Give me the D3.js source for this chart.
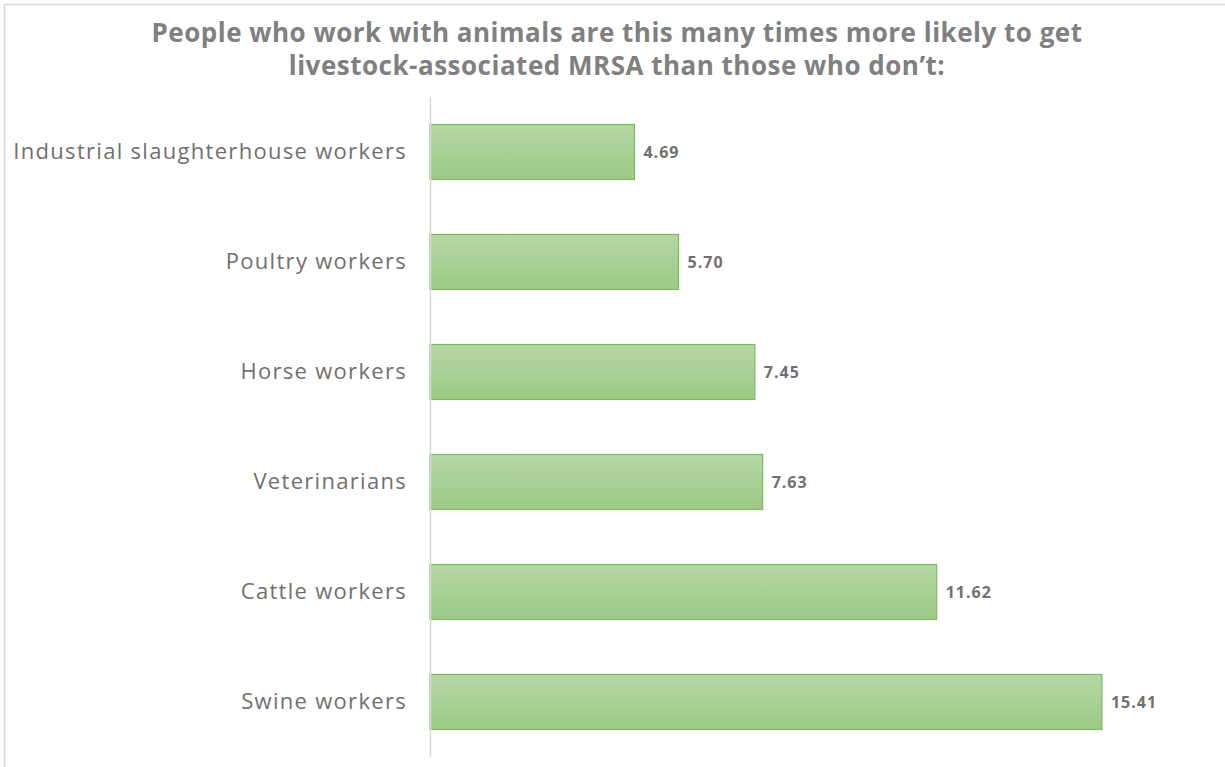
<!DOCTYPE html>
<html>
<head>
<meta charset="utf-8">
<script src="https://cdn.jsdelivr.net/npm/d3@7"></script>
<style>
  body { margin: 0; background: #fff; }
  svg { display: block; }
</style>
</head>
<body>
<div id="chart"></div>
<script>
// chart data
let categories = ["Industrial slaughterhouse workers", "Poultry workers", "Horse workers",
                  "Veterinarians", "Cattle workers", "Swine workers"];
let values = [4.69, 5.70, 7.45, 7.63, 11.62, 15.41];
let titleLines = ["People who work with animals are this many times more likely to get",
                  "livestock-associated MRSA than those who don\u2019t:"];

let width = 1225, height = 767;
let font = "'Open Sans', sans-serif";
let svg = d3.select("#chart").append("svg")
  .attr("width", width)
  .attr("height", height);

// light frame along top and left
svg.append("path")
  .attr("d", "M4.5," + height + "V4.5H" + width)
  .attr("fill", "none")
  .attr("stroke", "#d9d9d9")
  .attr("stroke-width", 1.5);

// bar gradient
let grad = svg.append("defs").append("linearGradient")
  .attr("id", "barGrad")
  .attr("x1", 0).attr("y1", 0).attr("x2", 0).attr("y2", 1);
grad.append("stop").attr("offset", "0%").attr("stop-color", "#b5d7a5");
grad.append("stop").attr("offset", "100%").attr("stop-color", "#9cca85");

// scales
let x = d3.scaleLinear().domain([0, 16]).range([430, 430 + 16 * 43.6]);
let y = d3.scaleBand().domain(categories).range([97, 757])
  .paddingInner(0.5).paddingOuter(0.25);

// title
svg.append("text")
  .attr("x", 617)
  .attr("y", 42)
  .attr("text-anchor", "middle")
  .attr("font-family", font)
  .attr("font-weight", "bold")
  .attr("font-size", 26)
  .attr("letter-spacing", 0.5)
  .attr("fill", "#808080")
  .selectAll("tspan")
  .data(titleLines)
  .enter()
  .append("tspan")
  .attr("x", 617)
  .attr("dy", (d, i) => i == 0 ? 0 : 33)
  .text(d => d);

// bars
svg.selectAll("rect.bar")
  .data(values)
  .enter()
  .append("rect")
  .attr("class", "bar")
  .attr("x", x(0))
  .attr("y", (d, i) => y(categories[i]))
  .attr("width", d => x(d) - x(0))
  .attr("height", y.bandwidth())
  .attr("fill", "url(#barGrad)")
  .attr("stroke", "#7fb863")
  .attr("stroke-width", 1.2);

// category axis
let axis = svg.append("g")
  .attr("transform", "translate(" + x(0) + ",0)")
  .call(d3.axisLeft(y).tickSize(0).tickPadding(23));
axis.select(".domain").attr("stroke", "#d9d9d9").attr("stroke-width", 1.5);
axis.selectAll("text")
  .attr("font-family", font)
  .attr("font-size", 22)
  .attr("letter-spacing", 1.3)
  .attr("fill", "#707070");

// value labels
svg.selectAll("text.val")
  .data(values)
  .enter()
  .append("text")
  .attr("class", "val")
  .attr("x", d => x(d) + 9)
  .attr("y", (d, i) => y(categories[i]) + y.bandwidth() / 2)
  .attr("dy", "0.35em")
  .attr("font-family", font)
  .attr("font-weight", "bold")
  .attr("font-size", 16)
  .attr("letter-spacing", 1)
  .attr("fill", "#707070")
  .text(d => d.toFixed(2));
</script>
</body>
</html>
